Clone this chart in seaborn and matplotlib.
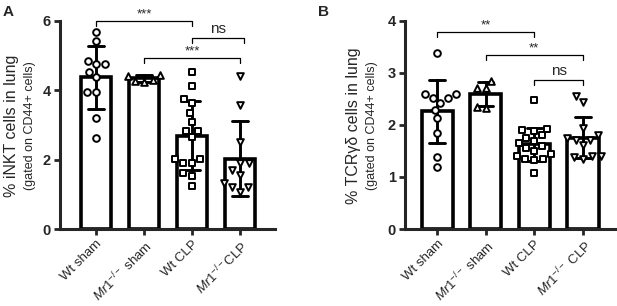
import matplotlib
matplotlib.use('Agg')
import matplotlib.pyplot as plt
import seaborn as sns
import pandas as pd

# groups and tick labels
groups = ['Wt sham', 'Mr1 sham', 'Wt CLP', 'Mr1 CLP']
labels_a = ['Wt sham', r'$\mathit{Mr1}^{-/-}$ sham', 'Wt CLP', r'$\mathit{Mr1}^{-/-}$CLP']
labels_b = ['Wt sham', r'$\mathit{Mr1}^{-/-}$ sham', 'Wt CLP', r'$\mathit{Mr1}^{-/-}$ CLP']
markers = ['o', '^', 's', 'v']

# panel A: % iNKT cells
inkt_wt_sham = [5.67, 5.42, 4.76, 4.76, 4.85, 4.52, 4.37, 3.96, 3.96, 3.21, 2.61]
inkt_mr1_sham = [4.25, 4.45, 4.42, 4.30, 4.28]
inkt_wt_clp = [4.54, 4.13, 3.75, 3.63, 3.34, 3.10, 2.84, 2.84, 2.66, 2.02, 2.02,
               1.91, 1.91, 1.61, 1.53, 1.24]
inkt_mr1_clp = [4.41, 3.58, 2.52, 1.89, 1.89, 1.70, 1.56, 1.32, 1.20, 1.20, 1.08]

# panel B: % TCRgd cells
tcr_wt_sham = [3.38, 2.59, 2.59, 2.51, 2.51, 2.42, 2.29, 2.13, 1.85, 1.39, 1.20]
tcr_mr1_sham = [2.85, 2.72, 2.72, 2.35, 2.33]
tcr_wt_clp = [2.48, 1.93, 1.90, 1.88, 1.80, 1.75, 1.70, 1.65, 1.60, 1.55, 1.50,
              1.45, 1.40, 1.35, 1.35, 1.33, 1.08]
tcr_mr1_clp = [2.55, 2.45, 1.95, 1.80, 1.75, 1.72, 1.72, 1.62, 1.40, 1.40, 1.38, 1.35]

# significance brackets: (left group, right group, height, text)
sig_a = [(0, 2, 6.0, '***'), (2, 3.08, 5.51, 'ns'), (1, 3, 4.93, '***')]
sig_b = [(0, 2, 3.79, '**'), (1, 3, 3.35, '**'), (2, 3, 2.87, 'ns')]


def to_df(series):
    rows = []
    for g, vals in zip(groups, series):
        for v in vals:
            rows.append([g, v])
    return pd.DataFrame(rows, columns=['group', 'value'])


sns.set_style('ticks')
plt.rcParams['font.family'] = ['Liberation Sans', 'DejaVu Sans']
plt.rcParams['mathtext.fontset'] = 'custom'
plt.rcParams['mathtext.rm'] = 'Liberation Sans'
plt.rcParams['mathtext.it'] = 'Liberation Sans:italic'

fig = plt.figure(figsize=(6.17, 3.06), dpi=100)
ax_a = fig.add_axes([0.0972, 0.2516, 0.3485, 0.680])
ax_b = fig.add_axes([0.6564, 0.2516, 0.3436, 0.680])


def draw_panel(ax, df, ymax, yticks, xlim, ticklabels, sig, tick_h):
    sns.barplot(data=df, x='group', y='value', order=groups, errorbar='sd',
                color='white', edgecolor='black', linewidth=2.6, width=0.64,
                capsize=0.32, err_kws={'color': 'black', 'linewidth': 2.1},
                ax=ax, zorder=1)
    for g, m in zip(groups, markers):
        sub = df[df['group'] == g]
        sns.swarmplot(data=sub, x='group', y='value', order=groups, marker=m,
                      size=4.8, color='white', edgecolor='black', linewidth=1.4,
                      ax=ax, zorder=3, warn_thresh=1)
    ax.set_ylim(0, ymax)
    ax.set_xlim(*xlim)
    ax.set_yticks(yticks)
    ax.set_yticklabels([str(t) for t in yticks], fontsize=10.5, fontweight='bold')
    ax.set_xticks(range(len(groups)))
    ax.set_xticklabels(ticklabels, rotation=45, ha='right', rotation_mode='anchor',
                       fontsize=9.5)
    ax.set_xlabel('')
    ax.set_ylabel('')
    for s in ['top', 'right']:
        ax.spines[s].set_visible(False)
    for s in ['left', 'bottom']:
        ax.spines[s].set_linewidth(2.2)
    ax.tick_params(width=2, length=4.5, pad=2)
    for x1, x2, y, txt in sig:
        ax.plot([x1, x1, x2, x2], [y - tick_h, y, y, y - tick_h], color='black',
                lw=0.9, clip_on=False, zorder=5)
        if txt == 'ns':
            ax.text((x1 + x2) / 2, y + tick_h * 0.3, txt, ha='center', va='bottom',
                    fontsize=11)
        else:
            ax.text((x1 + x2) / 2, y + tick_h * 0.1, txt, ha='center', va='bottom',
                    fontsize=9.5)


draw_panel(ax_a, to_df([inkt_wt_sham, inkt_mr1_sham, inkt_wt_clp, inkt_mr1_clp]),
           6, [0, 2, 4, 6], (-0.75, 3.73), labels_a, sig_a, 0.15)
draw_panel(ax_b, to_df([tcr_wt_sham, tcr_mr1_sham, tcr_wt_clp, tcr_mr1_clp]),
           4, [0, 1, 2, 3, 4], (-0.66, 3.7), labels_b, sig_b, 0.1)

# panel letters and y labels
fig.text(0.005, 0.985, 'A', fontsize=11, fontweight='bold', va='top')
fig.text(0.515, 0.985, 'B', fontsize=11, fontweight='bold', va='top')
fig.text(0.018, 0.59, '% iNKT cells in lung', rotation=90, ha='center',
         va='center', fontsize=11.5)
fig.text(0.048, 0.59, '(gated on CD44+ cells)', rotation=90, ha='center',
         va='center', fontsize=9)
fig.text(0.573, 0.59, '% TCR\u03b3\u03b4 cells in lung', rotation=90, ha='center',
         va='center', fontsize=11.5)
fig.text(0.603, 0.59, '(gated on CD44+ cells)', rotation=90, ha='center',
         va='center', fontsize=9)

fig.savefig('out.png', dpi=100)
